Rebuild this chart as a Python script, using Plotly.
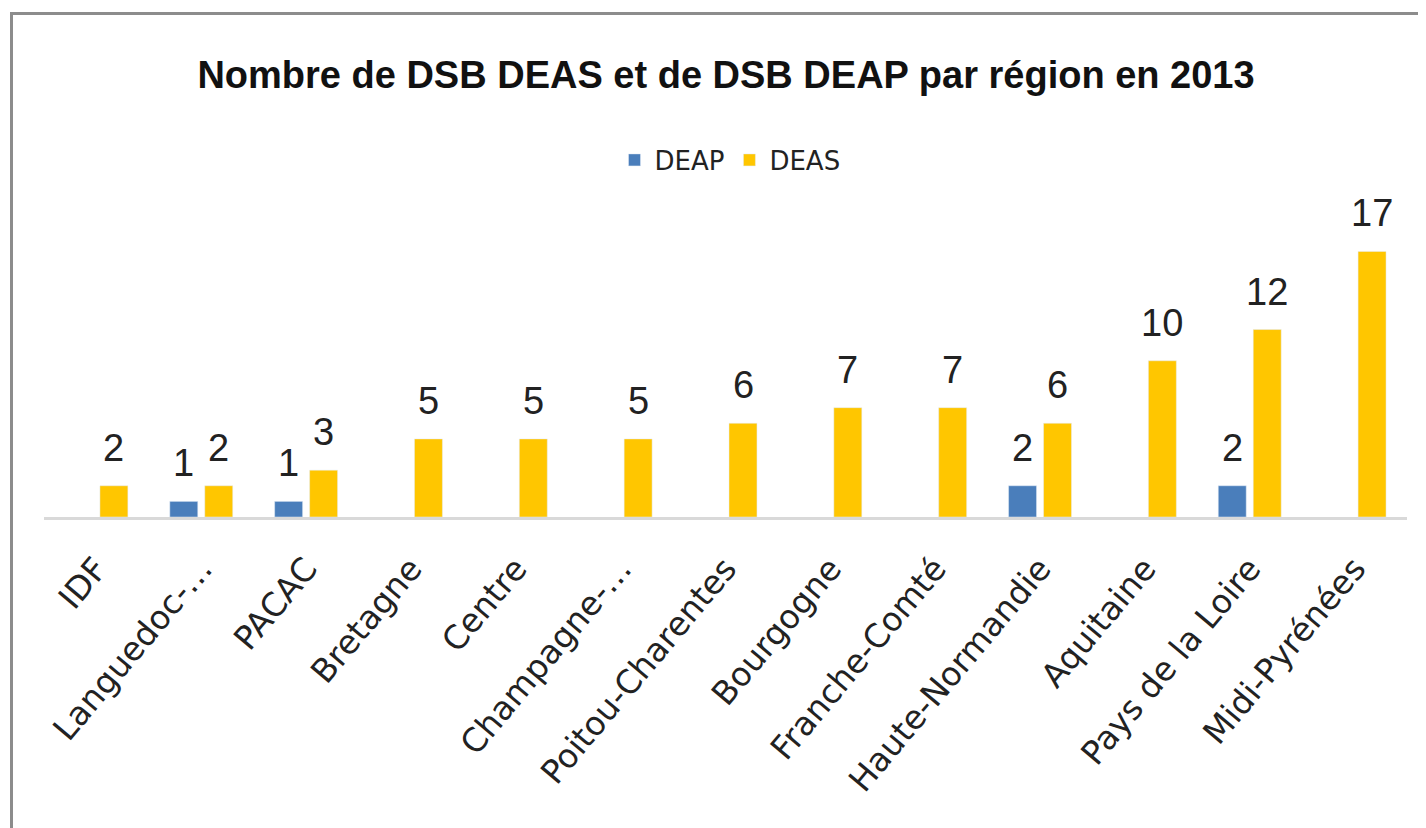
import plotly.graph_objects as go

categories = ["IDF", "Languedoc-…", "PACAC", "Bretagne", "Centre", "Champagne-…",
              "Poitou-Charentes", "Bourgogne", "Franche-Comté", "Haute-Normandie",
              "Aquitaine", "Pays de la Loire", "Midi-Pyrénées"]
deap = [None, 1, 1, None, None, None, None, None, None, 2, None, 2, None]
deas = [2, 2, 3, 5, 5, 5, 6, 7, 7, 6, 10, 12, 17]

BLUE = "#4A7EBB"
YELLOW = "#FFC600"
SANS = "Liberation Sans, Arial, sans-serif"

# the page body has an 8px margin; work in page coordinates and convert
OFF = 8
W, H = 1426, 828
plot_left, plot_right, plot_top, plot_bottom = 44 - OFF, 1407 - OFF, 228 - OFF, 517 - OFF
L, R, T, B = plot_left, W - plot_right, plot_top, H - plot_bottom
pw, ph = plot_right - plot_left, plot_bottom - plot_top


def px(x):
    return (x - OFF - plot_left) / pw


def py(y):
    return (plot_bottom - (y - OFF)) / ph


fig = go.Figure()
fig.add_trace(go.Bar(name="DEAP", x=categories, y=deap, marker_color=BLUE))
fig.add_trace(go.Bar(name="DEAS", x=categories, y=deas, marker_color=YELLOW))

annotations = []
for series, shift in ((deap, -17.5), (deas, 17.5)):
    for cat, v in zip(categories, series):
        if v is None:
            continue
        annotations.append(dict(x=cat, y=v, xref="x", yref="y", text=str(v),
                                showarrow=False, xshift=shift, yshift=15,
                                yanchor="bottom",
                                font=dict(family=SANS, size=38, color="#222")))

fig.update_layout(
    width=W, height=H,
    margin=dict(l=L, r=R, t=T, b=B),
    paper_bgcolor="white", plot_bgcolor="white",
    barmode="group", bargap=0.333, bargroupgap=0.2,
    title=dict(text="<b>Nombre de DSB DEAS et de DSB DEAP par région en 2013</b>",
               x=px(726), xanchor="center", xref="paper",
               y=1 - (75 - OFF) / H, yanchor="middle",
               font=dict(family=SANS, size=38, color="#111")),
    legend=dict(orientation="h", x=px(730), xanchor="center", y=py(160), yanchor="middle",
                font=dict(family="DejaVu Sans, sans-serif", size=26, color="#222"),
                itemwidth=30, traceorder="normal"),
    annotations=annotations,
    xaxis=dict(type="category", showline=True, linecolor="#D9D9D9", linewidth=3,
               showgrid=False, ticks="", tickangle=-50, ticklabelstandoff=16,
               tickfont=dict(family="DejaVu Sans, sans-serif", size=33, color="#222")),
    yaxis=dict(range=[0, 18.5], visible=False, showgrid=False, zeroline=False),
    shapes=[dict(type="rect", xref="paper", yref="paper",
                 x0=px(11.5), x1=px(1450), y0=py(860), y1=py(13.5),
                 line=dict(color="#8C8C8C", width=3), fillcolor="rgba(0,0,0,0)",
                 layer="above")],
)

fig.write_html("out.html")
